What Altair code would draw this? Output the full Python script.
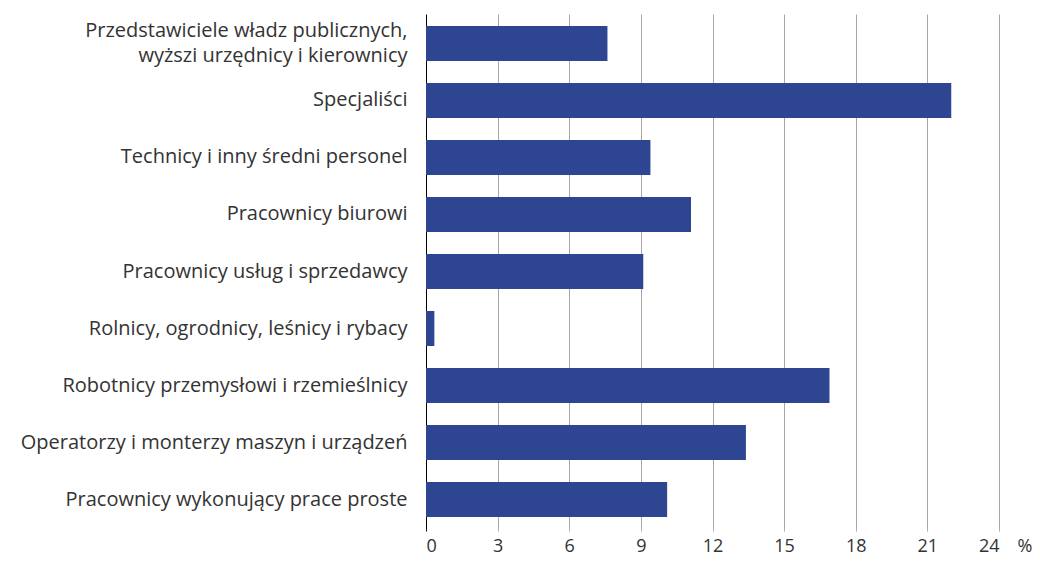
import altair as alt
import pandas as pd

categories = [
    "Przedstawiciele władz publicznych,|wyższi urzędnicy i kierownicy",
    "Specjaliści",
    "Technicy i inny średni personel",
    "Pracownicy biurowi",
    "Pracownicy usług i sprzedawcy",
    "Rolnicy, ogrodnicy, leśnicy i rybacy",
    "Robotnicy przemysłowi i rzemieślnicy",
    "Operatorzy i monterzy maszyn i urządzeń",
    "Pracownicy wykonujący prace proste",
]
values = [7.6, 22.0, 9.4, 11.1, 9.1, 0.35, 16.9, 13.4, 10.1]
ticks = [0, 3, 6, 9, 12, 15, 18, 21, 24]

df = pd.DataFrame({"cat": categories, "val": values})

FONT = "Open Sans"
TXT = "#333333"

chart = alt.Chart(df).mark_bar(color="#2e4591").encode(
    x=alt.X(
        "val:Q",
        scale=alt.Scale(domain=[0, 24], nice=False),
        axis=alt.Axis(
            values=ticks,
            title="%",
            titleAnchor="end",
            titleAlign="left",
            titleBaseline="alphabetic",
            titleX=591,
            titleY=22,
            titleFont=FONT,
            titleFontSize=18,
            titleFontWeight="normal",
            titleColor=TXT,
            domain=False,
            grid=True,
            gridColor={"condition": {"test": "datum.value === 0", "value": "#000000"}, "value": "#a6a6a6"},
            gridWidth=1,
            tickColor={"condition": {"test": "datum.value === 0", "value": "#000000"}, "value": "#a6a6a6"},
            tickSize=2,
            labelPadding=6,
            labelFont=FONT,
            labelFontSize=18,
            labelColor=TXT,
        ),
    ),
    y=alt.Y(
        "cat:N",
        sort=categories,
        scale=alt.Scale(paddingInner=0.386, paddingOuter=0.21),
        axis=alt.Axis(
            title=None,
            domain=False,
            ticks=False,
            grid=False,
            labelPadding=19,
            labelLimit=500,
            labelFont=FONT,
            labelFontSize=20,
            labelColor=TXT,
            labelExpr="split(datum.label, '|')",
            labelLineHeight=25,
            labelOffset={"condition": {"test": "indexof(datum.value, '|') >= 0", "value": -12.5}, "value": 0},
        ),
    ),
).properties(
    width=573,
    height=515,
    autosize=alt.AutoSizeParams(type="none"),
    padding={"left": 418, "top": 6, "right": 33, "bottom": 26},
).configure_view(stroke=None)

chart.save("out.html", embed_options={"renderer": "svg", "actions": False})
